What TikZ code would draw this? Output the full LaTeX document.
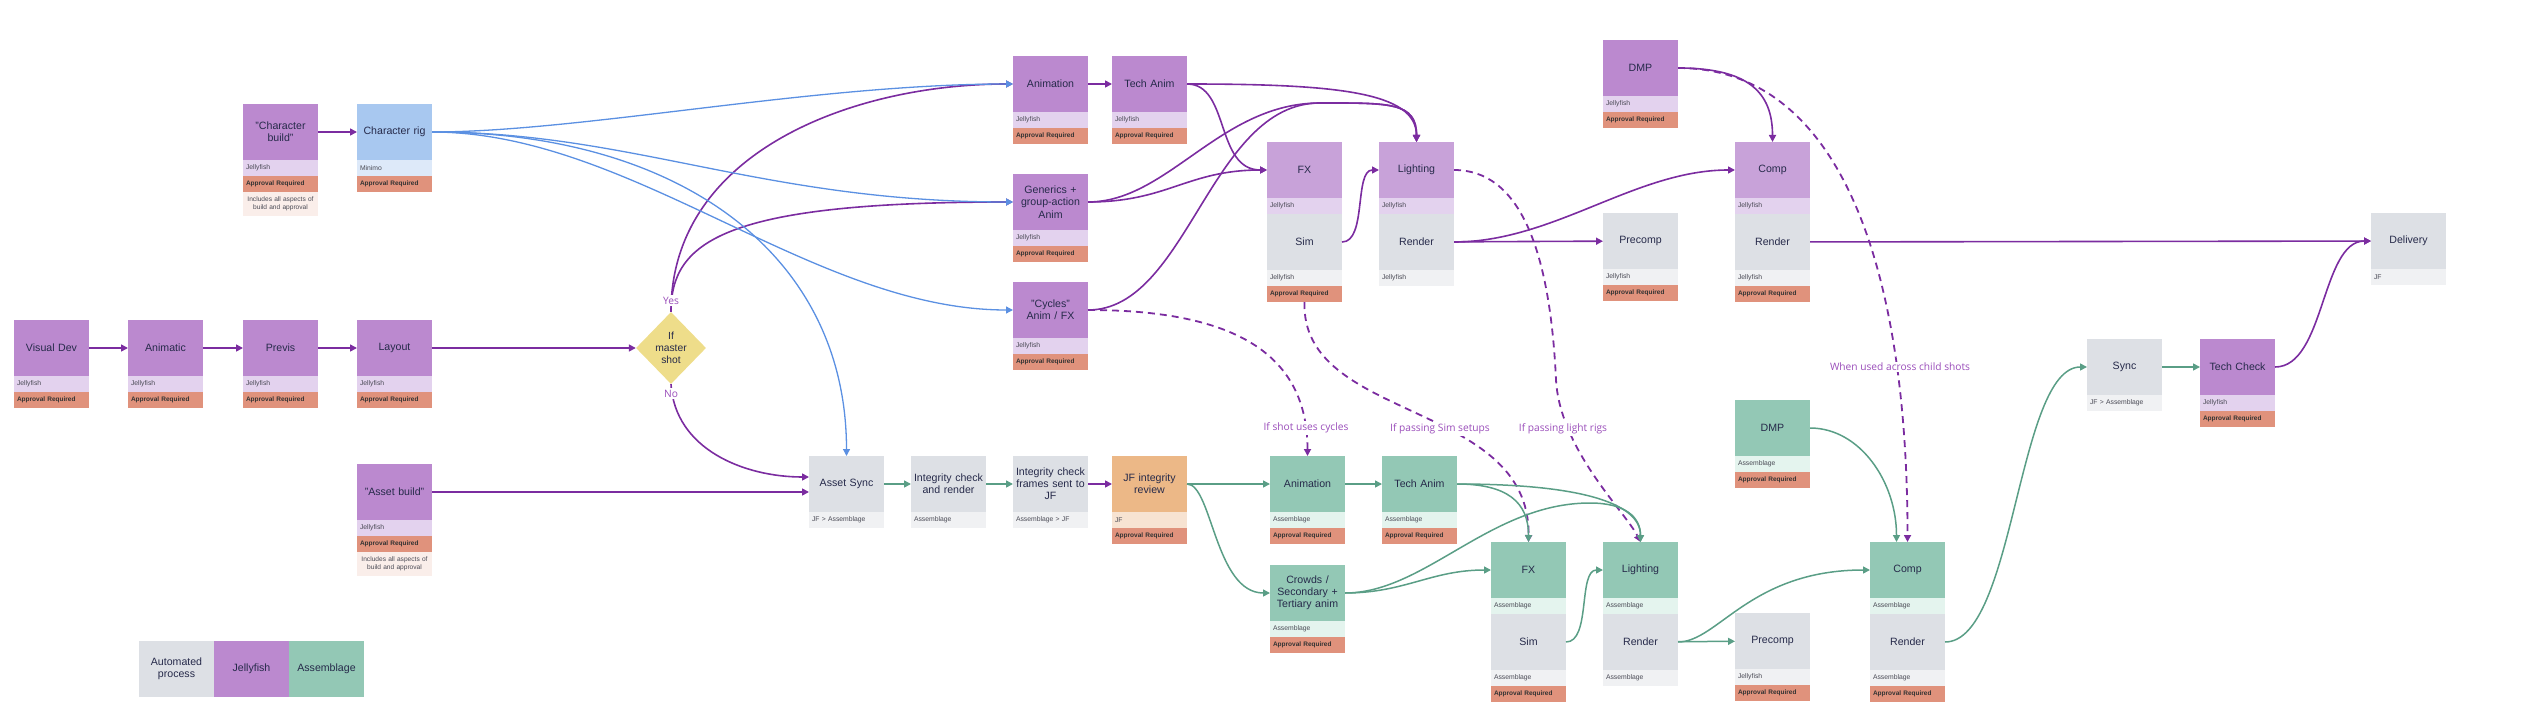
\documentclass[tikz,border=0pt]{standalone}
\usepackage{fontspec}
\setmainfont{Liberation Sans}
\newfontfamily\notefont{Open Sans}
\usepackage{tikz}
\usetikzlibrary{positioning,shapes.geometric,arrows.meta}

\definecolor{jfpurple}{HTML}{BB89CF}
\definecolor{jfsoft}{HTML}{C8A2D9}
\definecolor{jfpale}{HTML}{E3D2EE}
\definecolor{okred}{HTML}{E0927C}
\definecolor{notepink}{HTML}{FAEEEA}
\definecolor{rigblue}{HTML}{A8C8F0}
\definecolor{rigpale}{HTML}{DDE9F9}
\definecolor{autogray}{HTML}{DDE0E5}
\definecolor{autopale}{HTML}{F0F1F3}
\definecolor{asmgreen}{HTML}{93C8B5}
\definecolor{asmpale}{HTML}{E4F4EE}
\definecolor{revorange}{HTML}{ECB887}
\definecolor{revpale}{HTML}{F7E3D2}
\definecolor{shotyellow}{HTML}{EEDD8A}
\definecolor{ink}{HTML}{262A4A}
\definecolor{subink}{HTML}{4A4A55}
\definecolor{purpleline}{HTML}{7B2CA0}
\definecolor{blueline}{HTML}{5B90E2}
\definecolor{greenline}{HTML}{5A9E86}
\definecolor{notepurple}{HTML}{9A4DBA}

\begin{document}
\begin{tikzpicture}[
    x=1pt, y=-1pt,
    >={Triangle[length=7pt,width=7pt]},
    card/.style={rectangle, anchor=north west, outer sep=0pt, minimum width=75pt, minimum height=56pt,
        inner xsep=1pt, inner ysep=0pt, text width=73pt, align=center, text=ink,
        font=\fontsize{10.6}{12.2}\selectfont},
    jf/.style={card, fill=jfpurple},
    jflight/.style={card, fill=jfsoft},
    rig/.style={card, fill=rigblue},
    autobox/.style={card, fill=autogray},
    asm/.style={card, fill=asmgreen},
    rev/.style={card, fill=revorange},
    subrow/.style={rectangle, outer sep=0pt, minimum width=75pt, minimum height=16pt, inner xsep=3pt,
        inner ysep=0pt, text width=69pt, align=left, text=subink, font=\fontsize{6.8}{8}\selectfont},
    jfrow/.style={subrow, fill=jfpale},
    rigrow/.style={subrow, fill=rigpale},
    autorow/.style={subrow, fill=autopale},
    asmrow/.style={subrow, fill=asmpale},
    revrow/.style={subrow, fill=revpale},
    okrow/.style={subrow, fill=okred, text=black!80, font=\fontsize{6.5}{8}\selectfont\bfseries},
    noterow/.style={subrow, minimum height=24pt, fill=notepink, align=center, font=\fontsize{6.6}{7.6}\selectfont},
    shot/.style={diamond, aspect=1, fill=shotyellow, inner sep=0pt, minimum width=70pt, minimum height=72pt,
        align=center, text=ink, font=\fontsize{10.3}{12}\selectfont},
    cond/.style={fill=white, inner sep=1.5pt, text=notepurple, font=\notefont\fontsize{10.2}{12}\selectfont},
    flow/.style={->, draw=purpleline, line width=1.6pt},
    rigflow/.style={->, draw=blueline, line width=1.3pt},
    asmflow/.style={->, draw=greenline, line width=1.5pt},
    maybe/.style={->, draw=purpleline, line width=1.8pt, dash pattern=on 7pt off 5pt}
]
    \useasboundingbox (0,0) rectangle (2542,722);

    % Jellyfish tasks with approval
    \foreach \n/\x/\y/\lbl in {vdev/14/320/Visual Dev, anmc/128/320/Animatic, previs/243/320/Previs,
        layout/357/320/Layout, anim/1013/56/Animation, tanim/1112/56/Tech Anim,
        gen/1013/174/{Generics +\\group-action\\Anim}, cyc/1013/282/{"Cycles"\\Anim / FX},
        dmp/1603/40/DMP, tcheck/2200/339/Tech Check} {
        \node[jf] (\n) at (\x,\y) {\lbl};
        \node[jfrow, below=0pt of \n] (\n-jf) {Jellyfish};
        \node[okrow, below=0pt of \n-jf] (\n-ok) {Approval Required};
    }

    % Builds
    \node[jf] (charbuild) at (243,104) {"Character\\build"};
    \node[jfrow, below=0pt of charbuild] (charbuild-jf) {Jellyfish};
    \node[okrow, below=0pt of charbuild-jf] (charbuild-ok) {Approval Required};
    \node[noterow, below=0pt of charbuild-ok] (charbuild-note) {Includes all aspects of\\build and approval};
    \node[rig] (crig) at (357,104) {Character rig};
    \node[rigrow, below=0pt of crig] (crig-mm) {Minimo};
    \node[okrow, below=0pt of crig-mm] (crig-ok) {Approval Required};
    \node[jf] (abuild) at (357,464) {"Asset build"};
    \node[jfrow, below=0pt of abuild] (abuild-jf) {Jellyfish};
    \node[okrow, below=0pt of abuild-jf] (abuild-ok) {Approval Required};
    \node[noterow, below=0pt of abuild-ok] (abuild-note) {Includes all aspects of\\build and approval};

    % Decision
    \node[shot] (shot) at (671,348) {If\\master\\shot};

    % Automated steps
    \foreach \n/\x/\y/\lbl/\tool in {async/809/456/Asset Sync/JF > Assemblage,
        ichk/911/456/{Integrity check\\and render}/Assemblage,
        ifrm/1013/456/{Integrity check\\frames sent to\\JF}/Assemblage > JF,
        sync/2087/339/Sync/JF > Assemblage, deliv/2371/213/Delivery/JF} {
        \node[autobox] (\n) at (\x,\y) {\lbl};
        \node[autorow, below=0pt of \n] (\n-tool) {\tool};
    }
    \foreach \n/\x/\y in {ptop/1603/213, gprecomp/1735/613} {
        \node[autobox] (\n) at (\x,\y) {Precomp};
        \node[autorow, below=0pt of \n] (\n-jf) {Jellyfish};
        \node[okrow, below=0pt of \n-jf] (\n-ok) {Approval Required};
    }

    % JF review
    \node[rev] (review) at (1112,456) {JF integrity\\review};
    \node[revrow, below=0pt of review] (review-jf) {JF};
    \node[okrow, below=0pt of review-jf] (review-ok) {Approval Required};

    % Assemblage tasks with approval
    \foreach \n/\x/\y/\lbl in {ganim/1270/456/Animation, gtanim/1382/456/Tech Anim,
        crowds/1270/565/{Crowds /\\Secondary +\\Tertiary anim}, gdmp/1735/400/DMP} {
        \node[asm] (\n) at (\x,\y) {\lbl};
        \node[asmrow, below=0pt of \n] (\n-asm) {Assemblage};
        \node[okrow, below=0pt of \n-asm] (\n-ok) {Approval Required};
    }

    % Two-stage Jellyfish tasks
    \node[jflight] (fx) at (1267,142) {FX};
    \node[jfrow, below=0pt of fx] (fx-jf) {Jellyfish};
    \node[autobox, below=0pt of fx-jf] (sim) {Sim};
    \node[autorow, below=0pt of sim] (sim-jf) {Jellyfish};
    \node[okrow, below=0pt of sim-jf] (sim-ok) {Approval Required};
    \node[jflight] (light) at (1379,142) {Lighting};
    \node[jfrow, below=0pt of light] (light-jf) {Jellyfish};
    \node[autobox, below=0pt of light-jf] (render) {Render};
    \node[autorow, below=0pt of render] (render-jf) {Jellyfish};
    \node[jflight] (comp) at (1735,142) {Comp};
    \node[jfrow, below=0pt of comp] (comp-jf) {Jellyfish};
    \node[autobox, below=0pt of comp-jf] (crender) {Render};
    \node[autorow, below=0pt of crender] (crender-jf) {Jellyfish};
    \node[okrow, below=0pt of crender-jf] (crender-ok) {Approval Required};

    % Two-stage Assemblage tasks
    \node[asm] (gfx) at (1491,542) {FX};
    \node[asmrow, below=0pt of gfx] (gfx-asm) {Assemblage};
    \node[autobox, below=0pt of gfx-asm] (gsim) {Sim};
    \node[autorow, below=0pt of gsim] (gsim-asm) {Assemblage};
    \node[okrow, below=0pt of gsim-asm] (gsim-ok) {Approval Required};
    \node[asm] (glight) at (1603,542) {Lighting};
    \node[asmrow, below=0pt of glight] (glight-asm) {Assemblage};
    \node[autobox, below=0pt of glight-asm] (grender) {Render};
    \node[autorow, below=0pt of grender] (grender-asm) {Assemblage};
    \node[asm] (gcomp) at (1870,542) {Comp};
    \node[asmrow, below=0pt of gcomp] (gcomp-asm) {Assemblage};
    \node[autobox, below=0pt of gcomp-asm] (gcrender) {Render};
    \node[autorow, below=0pt of gcrender] (gcrender-asm) {Assemblage};
    \node[okrow, below=0pt of gcrender-asm] (gcrender-ok) {Approval Required};

    % Legend
    \node[autobox] (keyauto) at (139,641) {Automated\\process};
    \node[jf, right=0pt of keyauto] (keyjf) {Jellyfish};
    \node[asm, right=0pt of keyjf] (keyasm) {Assemblage};

    % Waypoints
    \coordinate (lightin) at (1320,103);
    \coordinate (glightin) at (1590,503);
    \coordinate (rigdrop) at (1556,380);

    % Pre-production
    \foreach \a/\b in {vdev/anmc, anmc/previs, previs/layout}
        \draw[flow] (\a) -- (\b);
    \draw[flow] (layout) -- (shot);
    \draw[flow] (charbuild) -- (crig);
    \draw[flow] (shot.north) .. controls +(0,-160) and +(-160,0) .. (anim.west);
    \draw[flow] (shot.north) .. controls +(0,-70) and +(-290,0) .. (gen.west);
    \draw[flow] (shot.south) .. controls +(4,65) and +(-65,0) .. ([yshift=7pt]async.west);
    \draw[flow] (abuild) -- (abuild -| async.west);

    % Rig hand-off
    \draw[rigflow] (crig.east) .. controls +(150,0) and +(-200,0) .. (anim.west);
    \draw[rigflow] (crig.east) .. controls +(200,0) and +(-250,0) .. (gen.west);
    \draw[rigflow] (crig.east) .. controls +(200,0) and +(-200,0) .. (cyc.west);
    \draw[rigflow] (crig.east) .. controls +(250,0) and +(0,-200) .. (async.north);

    % Master shot in Jellyfish
    \draw[flow] (anim) -- (tanim);
    \draw[flow] (tanim.east) .. controls +(150,0) and +(0,-50) .. (light.north);
    \draw[flow] (tanim.east) .. controls +(43,0) and +(-52,0) .. (fx.west);
    \draw[flow] (gen.east) .. controls +(80,0) and +(-80,0) .. (fx.west);
    \draw[flow] (gen.east) .. controls +(80,0) and +(-100,0) .. (lightin)
        .. controls +(70,0) and +(0,-40) .. (light.north);
    \draw[flow] (cyc.east) .. controls +(100,0) and +(-110,0) .. (lightin)
        .. controls +(70,0) and +(0,-40) .. (light.north);
    \draw[flow] (sim.east) .. controls +(25,0) and +(-25,0) .. (light.west);
    \draw[flow] (render) -- (ptop);
    \draw[flow] (render.east) .. controls +(100,0) and +(-100,0) .. (comp.west);
    \draw[flow] (dmp.east) .. controls +(70,0) and +(0,-50) .. (comp.north);
    \draw[flow] (crender) -- (deliv);
    \draw[flow] (tcheck.east) .. controls +(50,0) and +(-50,0) .. (deliv.west);

    % Hand-overs to child shots
    \draw[maybe] (cyc.east) .. controls +(150,0) and +(0,-100) .. (ganim.north);
    \draw[maybe] (sim-ok.south) .. controls +(-4,120) and +(2,-142) .. (gfx.north);
    \draw[maybe] (light.east) .. controls +(66,0) and +(-6,-130) .. (rigdrop)
        .. controls +(4,70) and +(-15,-30) .. (glight.north);
    \draw[maybe] (dmp.east) .. controls +(160,0) and +(0,-280) .. (gcomp.north);

    % Child shots in Assemblage
    \draw[asmflow] (async) -- (ichk);
    \draw[asmflow] (ichk) -- (ifrm);
    \draw[flow] (ifrm) -- (review);
    \draw[asmflow] (review) -- (ganim);
    \draw[asmflow] (review.east) .. controls +(25,0) and +(-55,0) .. (crowds.west);
    \draw[asmflow] (ganim) -- (gtanim);
    \draw[asmflow] (gtanim.east) .. controls +(50,0) and +(0,-40) .. (gfx.north);
    \draw[asmflow] (gtanim.east) .. controls +(120,0) and +(0,-40) .. (glight.north);
    \draw[asmflow] (crowds.east) .. controls +(60,0) and +(-60,0) .. (gfx.west);
    \draw[asmflow] (crowds.east) .. controls +(80,0) and +(-100,0) .. (glightin)
        .. controls +(35,0) and +(0,-25) .. (glight.north);
    \draw[asmflow] (gsim.east) .. controls +(25,0) and +(-25,0) .. (glight.west);
    \draw[asmflow] (grender) -- (gprecomp);
    \draw[asmflow] (grender.east) .. controls +(40,0) and +(-120,0) .. (gcomp.west);
    \draw[asmflow] (gdmp.east) .. controls +(50,0) and +(0,-60) .. ([xshift=-11pt]gcomp.north);
    \draw[asmflow] (gcrender.east) .. controls +(70,0) and +(-70,0) .. (sync.west);
    \draw[asmflow] (sync) -- (tcheck);

    % Branch labels
    \node[cond, above=6pt of shot] (yes) {Yes};
    \node[cond, below=4pt of shot] (no) {No};
    \node[cond] (cyclesnote) at (1306,428) {If shot uses cycles};
    \node[cond] (simnote) at (1440,429) {If passing Sim setups};
    \node[cond] (lightnote) at (1563,429) {If passing light rigs};
    \node[cond] (childnote) at (1900,367) {When used across child shots};
\end{tikzpicture}
\end{document}
